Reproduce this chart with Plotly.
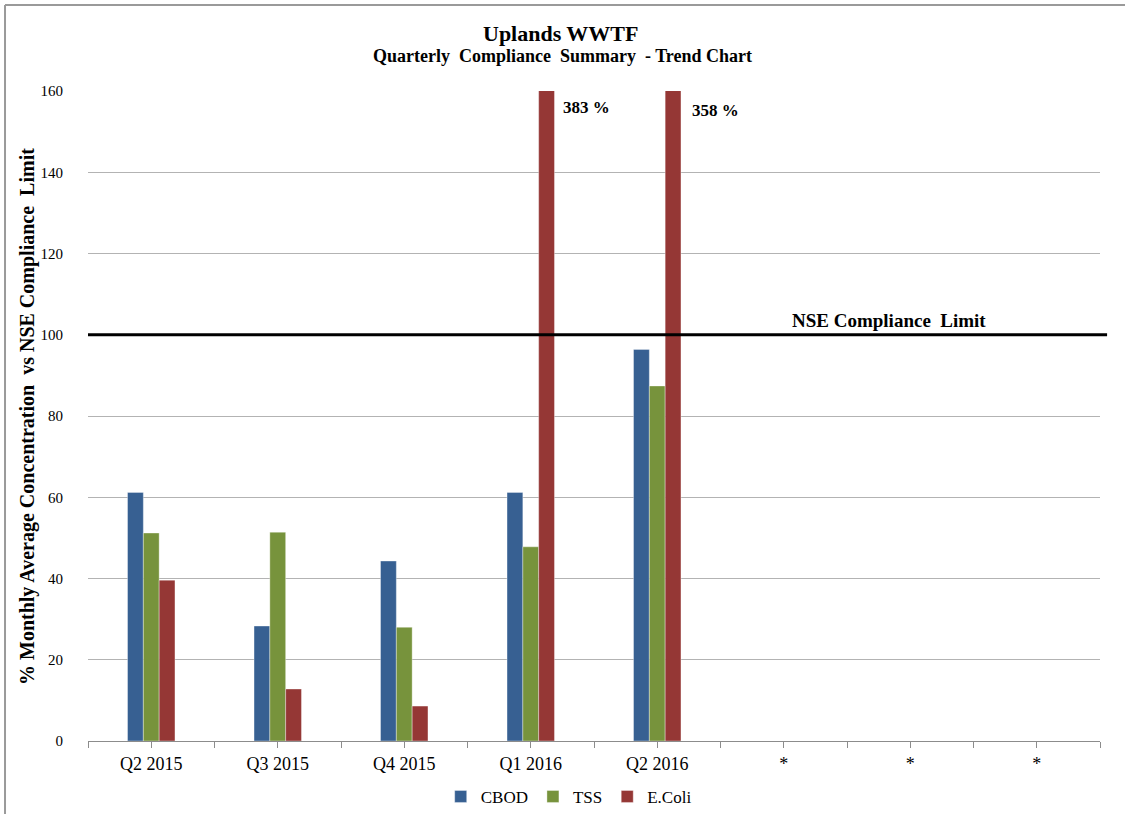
import plotly.graph_objects as go

quarters = ["Q2 2015", "Q3 2015", "Q4 2015", "Q1 2016", "Q2 2016", "*", "*", "*"]
cbod = [61.2, 28.3, 44.3, 61.2, 96.4, None, None, None]
tss = [51.2, 51.4, 28.0, 47.8, 87.4, None, None, None]
ecoli = [39.6, 12.8, 8.6, 383.0, 358.0, None, None, None]
limit = 100

series = [("CBOD", cbod, "#376092"), ("TSS", tss, "#77933C"), ("E.Coli", ecoli, "#953735")]
FONT = "Liberation Serif, Times New Roman, serif"

x = list(range(len(quarters)))
fig = go.Figure()
for name, vals, color in series:
    fig.add_trace(go.Bar(
        x=x, y=vals, name=name, marker_color=color,
        marker_line=dict(color="rgba(255,255,255,0.6)", width=0.6),
    ))

# tick marks every half category; labels only on the category centres
tickvals = [i * 0.5 - 0.5 for i in range(2 * len(quarters) + 1)]
ticktext = [quarters[int(v)] if float(v).is_integer() else "" for v in tickvals]

fig.update_layout(
    width=1125, height=814,
    margin=dict(l=88, r=25, t=91, b=73, autoexpand=False),
    paper_bgcolor="white", plot_bgcolor="white",
    barmode="group", bargap=0.625, bargroupgap=0,
    font=dict(family=FONT, color="black"),
    showlegend=True,
    legend=dict(orientation="h", x=0.475, xanchor="center", yref="container",
                y=0.021, yanchor="middle",
                font=dict(size=17, family=FONT), itemwidth=30, traceorder="normal"),
    xaxis=dict(range=[-0.5, len(quarters) - 0.5], tickvals=tickvals, ticktext=ticktext,
               ticks="outside", ticklen=6, tickcolor="#8c8c8c", showgrid=False,
               showline=True, linecolor="#8c8c8c", linewidth=1, zeroline=False,
               tickfont=dict(size=18, family=FONT, color="black")),
    yaxis=dict(range=[0, 160], dtick=20, showgrid=True, gridcolor="#b3b3b3", gridwidth=1,
               zeroline=False, showline=False, ticks="", ticklabelstandoff=24,
               tickfont=dict(size=15, family=FONT)),
)

# compliance limit line
fig.add_shape(type="line", xref="paper", yref="y", x0=0, x1=1.007, y0=limit, y1=limit,
              line=dict(color="black", width=3))
fig.add_annotation(x=5.83, y=limit, xref="x", yref="y", text="<b>NSE Compliance  Limit</b>",
                   showarrow=False, yanchor="bottom", yshift=2, font=dict(size=19, family=FONT))

# values of the clipped E.Coli bars
for i in (3, 4):
    fig.add_annotation(x=i + 0.24 + (0.02 if i == 4 else 0), y=160, xref="x", yref="y",
                       text=f"<b>{ecoli[i]:.0f} %</b>", showarrow=False,
                       xanchor="left", yanchor="top", yshift=-5 - (3 if i == 4 else 0),
                       font=dict(size=17, family=FONT))

# titles
fig.add_annotation(x=0.467, y=1.089, xref="paper", yref="paper", text="<b>Uplands WWTF</b>",
                   showarrow=False, font=dict(size=22, family=FONT), yanchor="middle")
fig.add_annotation(x=0.469, y=1.0535, xref="paper", yref="paper",
                   text="<b>Quarterly  Compliance  Summary  - Trend Chart</b>",
                   showarrow=False, font=dict(size=18, family=FONT), yanchor="middle")
fig.add_annotation(x=-0.0603, y=0.5, xref="paper", yref="paper", textangle=-90,
                   text="<b>% Monthly Average Concentration  vs NSE Compliance  Limit</b>",
                   showarrow=False, font=dict(size=20, family=FONT),
                   xanchor="center", yanchor="middle")

# chart frame
frame = dict(color="#9a9a9a", width=2)
fig.add_shape(type="line", xref="paper", yref="paper", x0=-0.082, x1=1.03, y0=1.1323, y1=1.1323, line=frame)
fig.add_shape(type="line", xref="paper", yref="paper", x0=-0.082, x1=-0.082, y0=1.1323, y1=-0.12, line=frame)

fig.write_html("out.html")
